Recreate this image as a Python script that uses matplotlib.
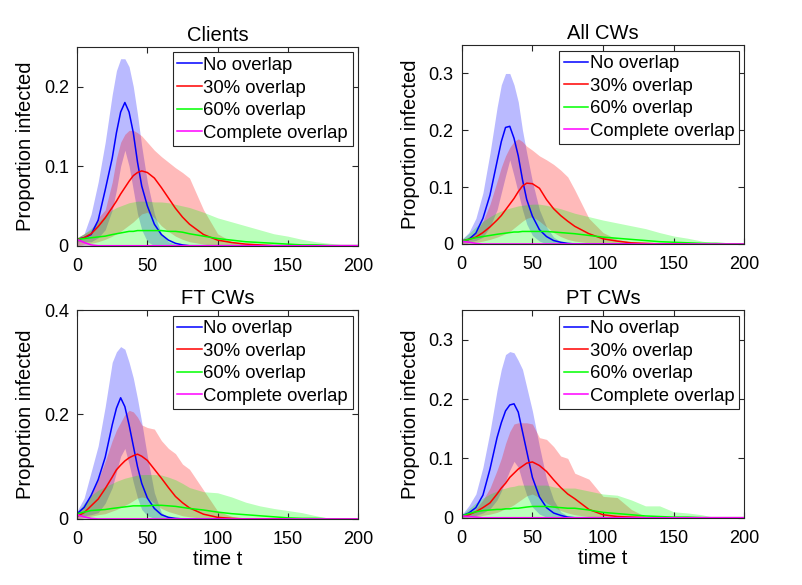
import matplotlib
matplotlib.use('Agg')
import matplotlib.pyplot as plt
from matplotlib.ticker import FormatStrFormatter

plt.rcParams['font.family'] = ['Liberation Sans', 'DejaVu Sans']

# Time points (days)
T = [0, 5, 10, 15, 20, 25, 28, 31, 34, 37, 40, 43, 46, 50, 55, 60, 65, 70, 75, 80,
     90, 100, 110, 120, 130, 140, 150, 160, 170, 180, 190, 200]

labels = ['No overlap', '30% overlap', '60% overlap', 'Complete overlap']
titles = ['Clients', 'All CWs', 'FT CWs', 'PT CWs']

# ---- Clients ----
cl_no_mean = [.008, .010, .014, .032, .070, .110, .142, .168, .180, .168, .142, .105, .075, .050, .027, .014, .007, .003, .001, 0,
              0, 0, 0, 0, 0, 0, 0, 0, 0, 0, 0, 0]
cl_no_hi = [.010, .015, .040, .080, .130, .190, .220, .235, .235, .225, .200, .165, .125, .080, .040, .015, .005, .002, 0, 0,
            0, 0, 0, 0, 0, 0, 0, 0, 0, 0, 0, 0]
cl_no_lo = [.005, .005, .005, .010, .020, .045, .070, .100, .120, .100, .070, .040, .020, .005, 0, 0, 0, 0, 0, 0,
            0, 0, 0, 0, 0, 0, 0, 0, 0, 0, 0, 0]
cl_30_mean = [.008, .010, .015, .024, .035, .048, .056, .065, .073, .081, .088, .092, .094, .092, .085, .073, .060, .047, .036, .027,
              .014, .007, .004, .002, .001, 0, 0, 0, 0, 0, 0, 0]
cl_30_hi = [.010, .015, .020, .035, .045, .080, .110, .130, .140, .145, .145, .142, .138, .130, .120, .112, .105, .098, .092, .085,
            .045, .015, .005, .002, 0, 0, 0, 0, 0, 0, 0, 0]
cl_30_lo = [0, .002, .003, .005, .008, .012, .015, .018, .022, .026, .030, .035, .040, .042, .035, .025, .018, .012, .008, .005,
            .002, 0, 0, 0, 0, 0, 0, 0, 0, 0, 0, 0]
cl_60_mean = [.008, .009, .010, .011, .012, .014, .015, .016, .017, .018, .018, .019, .019, .019, .019, .019, .018, .018, .017, .015,
              .012, .009, .007, .005, .004, .003, .002, .001, .001, 0, 0, 0]
cl_60_hi = [.010, .015, .022, .030, .038, .045, .048, .050, .052, .054, .055, .056, .056, .056, .055, .055, .054, .052, .050, .048,
            .042, .035, .030, .025, .020, .015, .012, .008, .005, .003, .001, 0]
cl_60_lo = [0, 0, 0, 0, 0, 0, 0, 0, 0, 0, 0, 0, 0, 0, 0, 0, 0, 0, 0, 0,
            0, 0, 0, 0, 0, 0, 0, 0, 0, 0, 0, 0]
cl_all_mean = [.008, .004, .001, 0, 0, 0, 0, 0, 0, 0, 0, 0, 0, 0, 0, 0, 0, 0, 0, 0,
               0, 0, 0, 0, 0, 0, 0, 0, 0, 0, 0, 0]
cl_all_hi = [.010, .006, .002, 0, 0, 0, 0, 0, 0, 0, 0, 0, 0, 0, 0, 0, 0, 0, 0, 0,
             0, 0, 0, 0, 0, 0, 0, 0, 0, 0, 0, 0]
cl_all_lo = [0, 0, 0, 0, 0, 0, 0, 0, 0, 0, 0, 0, 0, 0, 0, 0, 0, 0, 0, 0,
             0, 0, 0, 0, 0, 0, 0, 0, 0, 0, 0, 0]

# ---- All CWs ----
aw_no_mean = [.005, .008, .019, .045, .086, .145, .180, .205, .207, .186, .155, .113, .078, .049, .025, .013, .006, .003, .001, 0,
              0, 0, 0, 0, 0, 0, 0, 0, 0, 0, 0, 0]
aw_no_hi = [.008, .020, .045, .090, .160, .240, .280, .300, .300, .280, .250, .200, .160, .110, .060, .030, .012, .004, .001, 0,
            0, 0, 0, 0, 0, 0, 0, 0, 0, 0, 0, 0]
aw_no_lo = [.003, .004, .006, .012, .030, .060, .090, .120, .148, .120, .090, .060, .035, .015, .005, 0, 0, 0, 0, 0,
            0, 0, 0, 0, 0, 0, 0, 0, 0, 0, 0, 0]
aw_30_mean = [.005, .008, .012, .020, .030, .042, .050, .060, .070, .080, .092, .102, .107, .106, .098, .078, .062, .050, .040, .031,
              .018, .009, .005, .002, .001, 0, 0, 0, 0, 0, 0, 0]
aw_30_hi = [.008, .012, .020, .040, .070, .110, .135, .155, .170, .180, .185, .180, .172, .165, .155, .148, .140, .130, .118, .095,
            .045, .020, .008, .003, 0, 0, 0, 0, 0, 0, 0, 0]
aw_30_lo = [0, .002, .003, .005, .008, .012, .015, .018, .022, .028, .034, .040, .045, .048, .040, .030, .020, .013, .008, .005,
            .002, 0, 0, 0, 0, 0, 0, 0, 0, 0, 0, 0]
aw_60_mean = [.005, .008, .011, .013, .015, .017, .018, .019, .020, .021, .021, .022, .022, .022, .022, .022, .021, .020, .019, .018,
              .015, .012, .010, .008, .006, .004, .003, .002, .001, .001, 0, 0]
aw_60_hi = [.008, .018, .030, .040, .048, .055, .058, .061, .063, .065, .067, .068, .069, .070, .070, .068, .065, .062, .058, .054,
            .048, .042, .037, .032, .027, .020, .014, .010, .005, .001, 0, 0]
aw_60_lo = [0, 0, 0, 0, 0, 0, 0, 0, 0, 0, 0, 0, 0, 0, 0, 0, 0, 0, 0, 0,
            0, 0, 0, 0, 0, 0, 0, 0, 0, 0, 0, 0]
aw_all_mean = [.005, .003, .001, 0, 0, 0, 0, 0, 0, 0, 0, 0, 0, 0, 0, 0, 0, 0, 0, 0,
               0, 0, 0, 0, 0, 0, 0, 0, 0, 0, 0, 0]
aw_all_hi = [.007, .005, .002, 0, 0, 0, 0, 0, 0, 0, 0, 0, 0, 0, 0, 0, 0, 0, 0, 0,
             0, 0, 0, 0, 0, 0, 0, 0, 0, 0, 0, 0]
aw_all_lo = [0, 0, 0, 0, 0, 0, 0, 0, 0, 0, 0, 0, 0, 0, 0, 0, 0, 0, 0, 0,
             0, 0, 0, 0, 0, 0, 0, 0, 0, 0, 0, 0]

# ---- FT CWs ----
ft_no_mean = [.010, .022, .045, .075, .118, .180, .212, .232, .215, .180, .140, .100, .068, .040, .020, .008, .003, .001, 0, 0,
              0, 0, 0, 0, 0, 0, 0, 0, 0, 0, 0, 0]
ft_no_hi = [.015, .040, .090, .140, .215, .300, .320, .330, .325, .300, .270, .230, .185, .120, .050, .012, .003, 0, 0, 0,
            0, 0, 0, 0, 0, 0, 0, 0, 0, 0, 0, 0]
ft_no_lo = [.005, .006, .008, .012, .030, .060, .090, .120, .135, .105, .070, .040, .018, .006, .001, 0, 0, 0, 0, 0,
            0, 0, 0, 0, 0, 0, 0, 0, 0, 0, 0, 0]
ft_30_mean = [.005, .012, .025, .038, .058, .080, .094, .103, .111, .117, .121, .124, .120, .112, .095, .078, .060, .043, .031, .021,
              .009, .003, .001, 0, 0, 0, 0, 0, 0, 0, 0, 0]
ft_30_hi = [.010, .025, .045, .075, .110, .150, .170, .185, .200, .208, .205, .195, .180, .175, .172, .150, .135, .125, .105, .095,
            .055, .015, .005, 0, 0, 0, 0, 0, 0, 0, 0, 0]
ft_30_lo = [0, .003, .005, .008, .010, .015, .018, .022, .026, .030, .035, .040, .042, .040, .030, .020, .014, .010, .006, .004,
            .001, 0, 0, 0, 0, 0, 0, 0, 0, 0, 0, 0]
ft_60_mean = [.010, .013, .016, .017, .018, .020, .021, .022, .023, .024, .025, .025, .025, .025, .026, .026, .025, .024, .022, .020,
              .017, .013, .010, .008, .006, .004, .002, .001, .001, 0, 0, 0]
ft_60_hi = [.012, .030, .045, .055, .062, .068, .072, .075, .078, .080, .082, .084, .085, .085, .085, .084, .080, .075, .068, .060,
            .052, .050, .042, .032, .025, .020, .016, .012, .006, .001, 0, 0]
ft_60_lo = [0, 0, 0, 0, 0, 0, 0, 0, 0, 0, 0, 0, 0, 0, 0, 0, 0, 0, 0, 0,
            0, 0, 0, 0, 0, 0, 0, 0, 0, 0, 0, 0]
ft_all_mean = [.008, .004, .001, 0, 0, 0, 0, 0, 0, 0, 0, 0, 0, 0, 0, 0, 0, 0, 0, 0,
               0, 0, 0, 0, 0, 0, 0, 0, 0, 0, 0, 0]
ft_all_hi = [.012, .006, .002, 0, 0, 0, 0, 0, 0, 0, 0, 0, 0, 0, 0, 0, 0, 0, 0, 0,
             0, 0, 0, 0, 0, 0, 0, 0, 0, 0, 0, 0]
ft_all_lo = [0, 0, 0, 0, 0, 0, 0, 0, 0, 0, 0, 0, 0, 0, 0, 0, 0, 0, 0, 0,
             0, 0, 0, 0, 0, 0, 0, 0, 0, 0, 0, 0]

# ---- PT CWs ----
pt_no_mean = [.003, .008, .017, .038, .082, .135, .160, .180, .190, .192, .178, .145, .112, .068, .035, .017, .008, .004, .001, 0,
              0, 0, 0, 0, 0, 0, 0, 0, 0, 0, 0, 0]
pt_no_hi = [.005, .020, .040, .085, .145, .215, .250, .275, .280, .278, .265, .250, .220, .180, .120, .065, .030, .010, .003, 0,
            0, 0, 0, 0, 0, 0, 0, 0, 0, 0, 0, 0]
pt_no_lo = [.001, .002, .004, .008, .015, .030, .045, .062, .080, .095, .085, .060, .038, .018, .006, .001, 0, 0, 0, 0,
            0, 0, 0, 0, 0, 0, 0, 0, 0, 0, 0, 0]
pt_30_mean = [.002, .005, .010, .017, .025, .040, .050, .058, .068, .075, .082, .087, .092, .094, .088, .078, .064, .051, .040, .032,
              .014, .005, .002, .001, 0, 0, 0, 0, 0, 0, 0, 0]
pt_30_hi = [.003, .008, .015, .030, .050, .080, .100, .125, .145, .158, .160, .160, .160, .158, .135, .132, .120, .104, .100, .075,
            .065, .036, .034, .014, .002, 0, 0, 0, 0, 0, 0, 0]
pt_30_lo = [0, .001, .002, .004, .006, .009, .012, .015, .018, .022, .027, .032, .037, .040, .034, .025, .018, .012, .008, .005,
            .002, 0, 0, 0, 0, 0, 0, 0, 0, 0, 0, 0]
pt_60_mean = [.003, .007, .010, .012, .013, .014, .014, .015, .015, .016, .016, .017, .018, .019, .019, .019, .018, .017, .016, .016,
              .013, .009, .007, .005, .003, .002, .001, .001, 0, 0, 0, 0]
pt_60_hi = [.005, .015, .025, .033, .040, .045, .048, .050, .052, .053, .055, .055, .055, .055, .055, .055, .052, .050, .050, .050,
            .045, .040, .038, .030, .020, .020, .010, .008, .005, 0, 0, 0]
pt_60_lo = [0, 0, 0, 0, 0, 0, 0, 0, 0, 0, 0, 0, 0, 0, 0, 0, 0, 0, 0, 0,
            0, 0, 0, 0, 0, 0, 0, 0, 0, 0, 0, 0]
pt_all_mean = [.003, .002, .001, 0, 0, 0, 0, 0, 0, 0, 0, 0, 0, 0, 0, 0, 0, 0, 0, 0,
               0, 0, 0, 0, 0, 0, 0, 0, 0, 0, 0, 0]
pt_all_hi = [.005, .004, .003, .001, 0, 0, 0, 0, 0, 0, 0, 0, 0, 0, 0, 0, 0, 0, 0, 0,
             0, 0, 0, 0, 0, 0, 0, 0, 0, 0, 0, 0]
pt_all_lo = [0, 0, 0, 0, 0, 0, 0, 0, 0, 0, 0, 0, 0, 0, 0, 0, 0, 0, 0, 0,
             0, 0, 0, 0, 0, 0, 0, 0, 0, 0, 0, 0]

panels = [
    [(cl_no_mean, cl_no_lo, cl_no_hi), (cl_30_mean, cl_30_lo, cl_30_hi),
     (cl_60_mean, cl_60_lo, cl_60_hi), (cl_all_mean, cl_all_lo, cl_all_hi)],
    [(aw_no_mean, aw_no_lo, aw_no_hi), (aw_30_mean, aw_30_lo, aw_30_hi),
     (aw_60_mean, aw_60_lo, aw_60_hi), (aw_all_mean, aw_all_lo, aw_all_hi)],
    [(ft_no_mean, ft_no_lo, ft_no_hi), (ft_30_mean, ft_30_lo, ft_30_hi),
     (ft_60_mean, ft_60_lo, ft_60_hi), (ft_all_mean, ft_all_lo, ft_all_hi)],
    [(pt_no_mean, pt_no_lo, pt_no_hi), (pt_30_mean, pt_30_lo, pt_30_hi),
     (pt_60_mean, pt_60_lo, pt_60_hi), (pt_all_mean, pt_all_lo, pt_all_hi)],
]
ylims = [0.25, 0.35, 0.4, 0.35]
yticks = [[0, 0.1, 0.2], [0, 0.1, 0.2, 0.3], [0, 0.2, 0.4], [0, 0.1, 0.2, 0.3]]
colors = ['#0000ff', '#ff0000', '#00ff00', '#ff00ff']

# axes boxes in figure fraction [left, bottom, width, height]
boxes = [[0.096, 0.580, 0.350, 0.340],
         [0.575, 0.583, 0.352, 0.340],
         [0.096, 0.113, 0.350, 0.357],
         [0.575, 0.115, 0.352, 0.355]]

fig = plt.figure(figsize=(8.03, 5.85), dpi=100)

for i in range(4):
    ax = fig.add_axes(boxes[i])
    for (mean, lo, hi), col, lab in zip(panels[i], colors, labels):
        ax.fill_between(T, lo, hi, color=col, alpha=0.27, linewidth=0)
        ax.plot(T, mean, color=col, linewidth=1.1, label=lab)
    ax.set_xlim(0, 200)
    ax.set_ylim(0, ylims[i])
    ax.set_xticks([0, 50, 100, 150, 200])
    ax.set_yticks(yticks[i])
    ax.yaxis.set_major_formatter(FormatStrFormatter('%g'))
    ax.tick_params(direction='in', top=True, right=True, length=4,
                   labelsize=13, color='#262626')
    ax.tick_params(axis='x', pad=9)
    ax.tick_params(axis='y', pad=6)
    for s in ax.spines.values():
        s.set_color('#262626')
        s.set_linewidth(0.8)
    ax.set_title(titles[i], fontsize=14.5, pad=4)
    ax.set_ylabel('Proportion infected', fontsize=14.5, labelpad=6)
    if i >= 2:
        ax.set_xlabel('time t', fontsize=14.5, labelpad=1)
    leg = ax.legend(loc='upper right', fontsize=13.3, fancybox=False, framealpha=1,
                    edgecolor='#262626', borderaxespad=0.3, borderpad=0.25,
                    labelspacing=0.3, handlelength=1.3, handletextpad=0.1)
    leg.get_frame().set_linewidth(0.8)

plt.savefig('out.png', dpi=100, facecolor='white')
